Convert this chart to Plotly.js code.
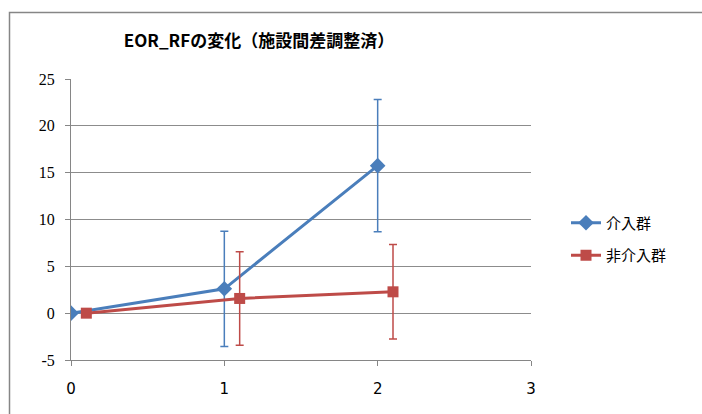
<!DOCTYPE html>
<html>
<head>
<meta charset="utf-8">
<script src="https://cdn.plot.ly/plotly-3.0.1.min.js"></script>
<style>html,body{margin:0;padding:0;background:#fff;}#chart{width:702px;height:414px;}</style>
</head>
<body>
<div id="chart"></div>
<script>
// Data
const seriesNames = ["介入群", "非介入群"];
const xIntervention = [0, 1, 2];
const yIntervention = [0, 2.6, 15.75];
const errIntervention = [0, 6.15, 7.05];
const xControl = [0.1, 1.1, 2.1];
const yControl = [0, 1.57, 2.28];
const errControl = [0, 5.0, 5.05];
const titleText = "EOR_RFの変化（施設間差調整済）";

const blue = "#4a7ebb";
const red = "#be4b48";

const traces = [
  {
    x: xIntervention, y: yIntervention, name: seriesNames[0], legendgroup: "a",
    type: "scatter", mode: "lines+markers",
    line: {color: blue, width: 3},
    marker: {symbol: "diamond", size: 12, color: blue},
    error_y: {type: "data", array: errIntervention, visible: true, color: blue, thickness: 1.5, width: 4}
  },
  {
    x: xControl, y: yControl, name: seriesNames[1], legendgroup: "b",
    type: "scatter", mode: "lines+markers",
    line: {color: red, width: 3},
    marker: {symbol: "square", size: 11, color: red},
    error_y: {type: "data", array: errControl, visible: true, color: red, thickness: 1.5, width: 4}
  }
];

const layout = {
  width: 702, height: 414,
  margin: {l: 71, r: 171, t: 79, b: 54},
  paper_bgcolor: "#ffffff", plot_bgcolor: "#ffffff",
  showlegend: true,
  title: {
    text: titleText,
    font: {family: "Noto Sans CJK JP", size: 17, color: "#000", weight: "bold"},
    x: 259 / 702, xanchor: "center", xref: "container",
    y: 1 - 41 / 414, yanchor: "middle", yref: "container"
  },
  xaxis: {
    range: [0, 3], tickvals: [0, 1, 2, 3], ticktext: ["0", "1", "2", "3"],
    showgrid: false, zeroline: false,
    showline: true, linecolor: "#868686", linewidth: 1,
    ticks: "outside", ticklen: 5, tickcolor: "#868686",
    tickfont: {family: "DejaVu Sans", size: 15, color: "#000"},
    ticklabelstandoff: 10,
    fixedrange: true
  },
  yaxis: {
    range: [-5, 25], tickvals: [-5, 0, 5, 10, 15, 20, 25],
    ticktext: ["-5", "0", "5", "10", "15", "20", "25"],
    showgrid: true, gridcolor: "#8c8c8c", gridwidth: 1, zeroline: false,
    showline: true, linecolor: "#868686", linewidth: 1,
    ticks: "outside", ticklen: 5, tickcolor: "#868686",
    tickfont: {family: "Times New Roman, Liberation Serif, serif", size: 16, color: "#000"},
    ticklabelstandoff: 7,
    fixedrange: true
  },
  legend: {
    x: (566 - 71) / 460, xanchor: "left", xref: "paper",
    y: (360 - 239) / 281, yanchor: "middle", yref: "paper",
    font: {family: "Noto Sans CJK JP", size: 15, color: "#000"},
    bgcolor: "rgba(0,0,0,0)", tracegroupgap: 10
  },
  shapes: [
    {type: "rect", xref: "paper", yref: "paper",
     x0: (9.5 - 71) / 460, x1: 1.5, y0: -0.3, y1: (360 - 12.5) / 281,
     line: {color: "#868686", width: 1.5}, fillcolor: "rgba(0,0,0,0)", layer: "below"}
  ]
};

Plotly.newPlot("chart", traces, layout, {displayModeBar: false, staticPlot: true});
</script>
</body>
</html>
